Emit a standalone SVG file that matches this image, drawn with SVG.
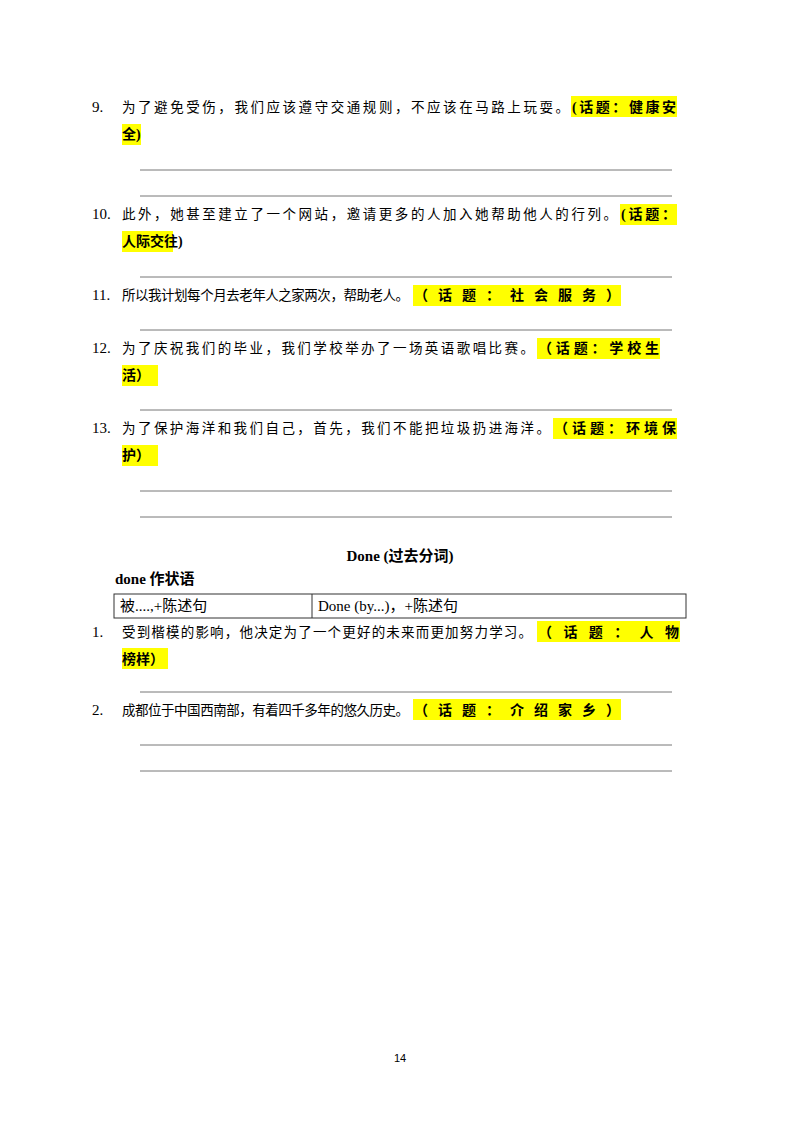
<svg xmlns="http://www.w3.org/2000/svg" width="800" height="1132" viewBox="0 0 800 1132">
<style>
text{font-family:"Liberation Serif","Noto Sans CJK SC",serif;font-size:15px;fill:#000}
.c{font-size:13.5px}
.b{font-weight:bold;font-size:14px}
.h{fill:#ffff00}
.l{stroke:#777;stroke-width:1}
</style>
<rect width="800" height="1132" fill="#fff"/>
<g id="highlights">
<rect class="h" x="571" y="96" width="106" height="21"/><rect class="h" x="122" y="124" width="19" height="21"/>
<rect class="h" x="620" y="204" width="57" height="21"/><rect class="h" x="122" y="231" width="51" height="21"/>
<rect class="h" x="413" y="285" width="208" height="21"/>
<rect class="h" x="537" y="338" width="123" height="21"/><rect class="h" x="122" y="365" width="36" height="21"/>
<rect class="h" x="553" y="418" width="124" height="21"/><rect class="h" x="122" y="445" width="36" height="21"/>
<rect class="h" x="537" y="621" width="143" height="21"/><rect class="h" x="122" y="648" width="46" height="21"/>
<rect class="h" x="413" y="699" width="208" height="21"/>
</g>
<g id="q9"><text x="92" y="112">9.</text><text class="c" x="122" y="112" textLength="447">为了避免受伤，我们应该遵守交通规则，不应该在马路上玩耍。</text><text class="b" x="572" y="112" textLength="104">(话题：健康安</text><text class="b" x="122" y="139">全)</text></g>
<g id="q10"><text x="92" y="219">10.</text><text class="c" x="122" y="219" textLength="495">此外，她甚至建立了一个网站，邀请更多的人加入她帮助他人的行列。</text><text class="b" x="621" y="219" textLength="55">(话题：</text><text class="b" x="122" y="246">人际交往)</text></g>
<g id="q11"><text x="92" y="300">11.</text><text class="c" x="122" y="300" textLength="287">所以我计划每个月去老年人之家两次，帮助老人。</text><text class="b" x="414" y="300" textLength="206">（话题：社会服务）</text></g>
<g id="q12"><text x="92" y="353">12.</text><text class="c" x="122" y="353" textLength="412">为了庆祝我们的毕业，我们学校举办了一场英语歌唱比赛。</text><text class="b" x="538" y="353" textLength="121">（话题：学校生</text><text class="b" x="122" y="380">活）</text></g>
<g id="q13"><text x="92" y="433">13.</text><text class="c" x="122" y="433" textLength="428">为了保护海洋和我们自己，首先，我们不能把垃圾扔进海洋。</text><text class="b" x="554" y="433" textLength="122">（话题：环境保</text><text class="b" x="122" y="460">护）</text></g>
<g id="lines">
<line class="l" x1="140" y1="170" x2="672" y2="170"/><line class="l" x1="140" y1="196" x2="672" y2="196"/>
<line class="l" x1="140" y1="277" x2="672" y2="277"/><line class="l" x1="140" y1="330" x2="672" y2="330"/>
<line class="l" x1="140" y1="410" x2="672" y2="410"/><line class="l" x1="140" y1="491" x2="672" y2="491"/>
<line class="l" x1="140" y1="517" x2="672" y2="517"/><line class="l" x1="140" y1="692" x2="672" y2="692"/>
<line class="l" x1="140" y1="745" x2="672" y2="745"/><line class="l" x1="140" y1="771" x2="672" y2="771"/>
</g>
<text class="b" x="400" y="561" text-anchor="middle" style="font-size:15px">Done (过去分词)</text>
<text class="b" x="115" y="584" style="font-size:15px">done 作状语</text>
<g id="table" fill="none" stroke="#333" stroke-width="1">
<rect x="114" y="594" width="572" height="24"/><line x1="312" y1="594" x2="312" y2="618"/>
</g>
<text x="120" y="611">被....,+陈述句</text>
<text x="318" y="611">Done  (by...)，+陈述句</text>
<g id="d1"><text x="92" y="637">1.</text><text class="c" x="122" y="637" textLength="410">受到楷模的影响，他决定为了一个更好的未来而更加努力学习。</text><text class="b" x="538" y="637" textLength="141">（话题：人物</text><text class="b" x="122" y="664">榜样）</text></g>
<g id="d2"><text x="92" y="715">2.</text><text class="c" x="122" y="715" textLength="287">成都位于中国西南部，有着四千多年的悠久历史。</text><text class="b" x="414" y="715" textLength="206">（话题：介绍家乡）</text></g>
<text x="400" y="1062" text-anchor="middle" style="font-family:'Liberation Sans',sans-serif;font-size:11px">14</text>
</svg>
